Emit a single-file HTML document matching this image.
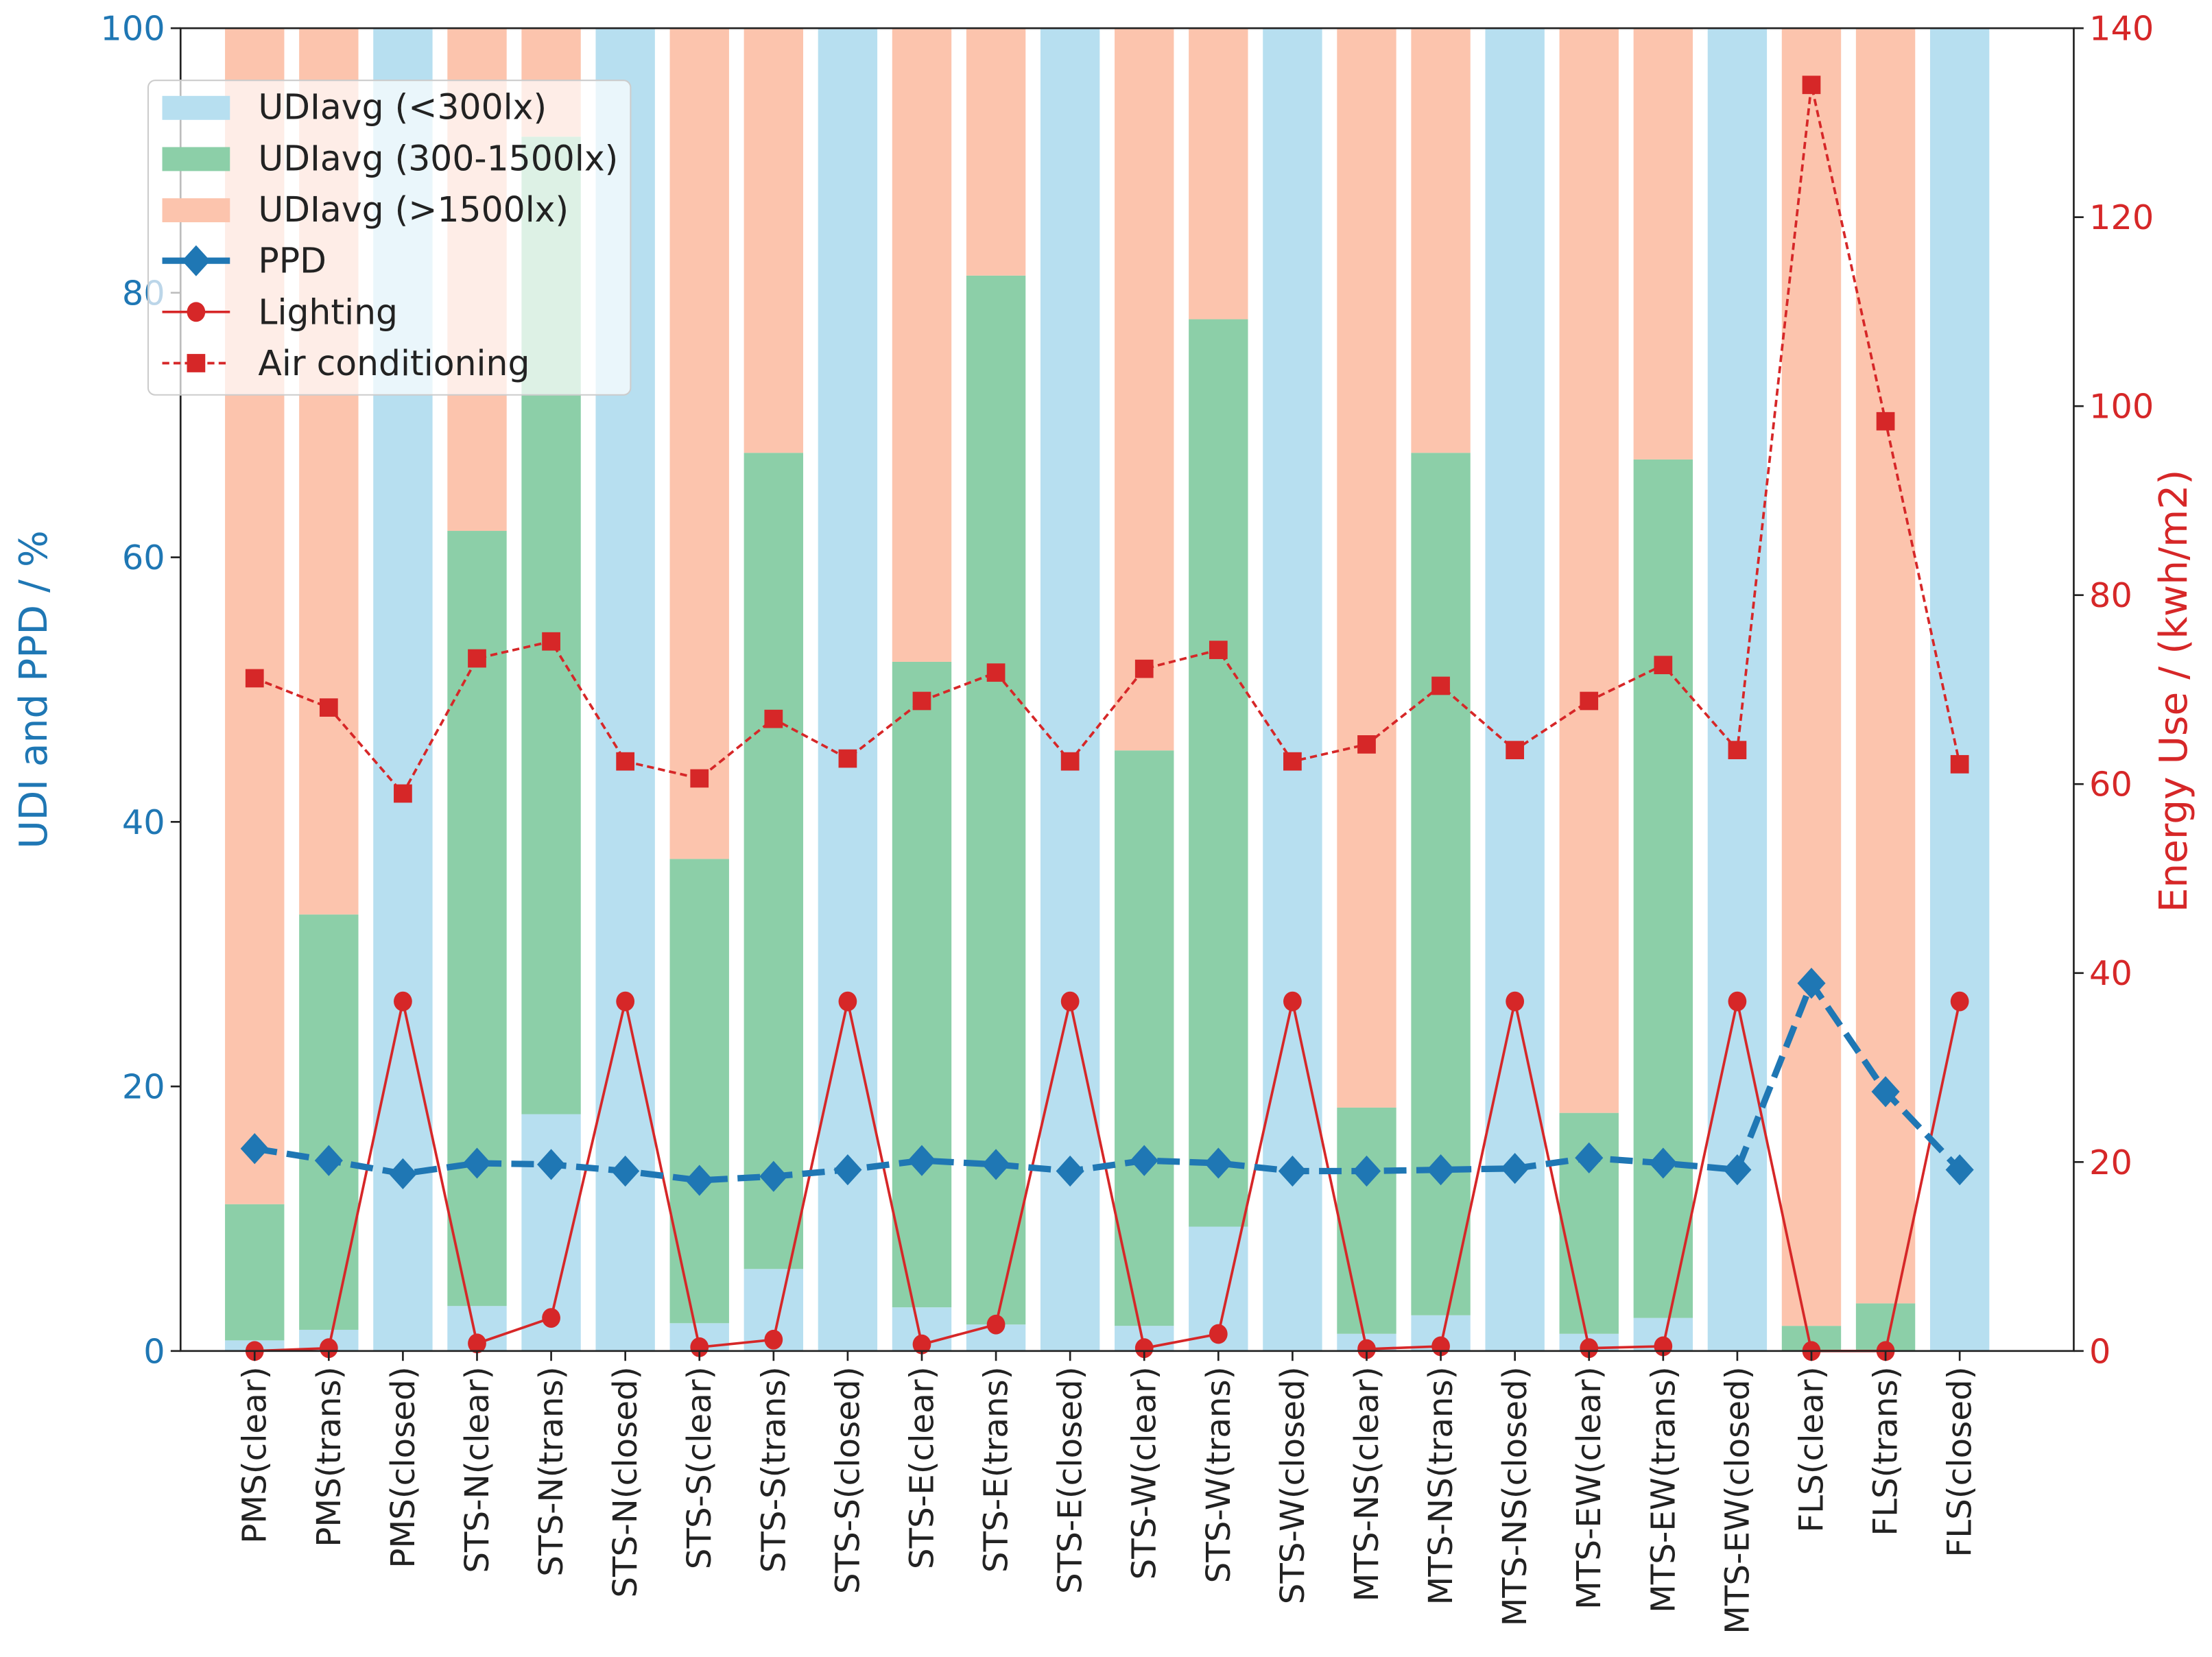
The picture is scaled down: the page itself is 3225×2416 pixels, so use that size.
<!DOCTYPE html>
<html><head><meta charset="utf-8"><style>
html,body{margin:0;padding:0;background:#fff}
svg{display:block;font-family:"DejaVu Sans","Liberation Sans",sans-serif}
</style></head><body>
<svg id="chart" width="3225" height="2416" viewBox="0 0 1568 1175" preserveAspectRatio="none" xmlns="http://www.w3.org/2000/svg">
<g id="bars"></g>
<g id="lines"></g>
<g id="axes"></g>
<g id="legend"></g>
</svg>
<script>
const categories=["PMS(clear)","PMS(trans)","PMS(closed)","STS-N(clear)","STS-N(trans)","STS-N(closed)","STS-S(clear)","STS-S(trans)","STS-S(closed)","STS-E(clear)","STS-E(trans)","STS-E(closed)","STS-W(clear)","STS-W(trans)","STS-W(closed)","MTS-NS(clear)","MTS-NS(trans)","MTS-NS(closed)","MTS-EW(clear)","MTS-EW(trans)","MTS-EW(closed)","FLS(clear)","FLS(trans)","FLS(closed)"];
const udiLow=[0.8,1.6,100,3.4,17.9,100,2.1,6.2,100,3.3,2.0,100,1.9,9.4,100,1.3,2.7,100,1.3,2.5,100,0,0,100];
const udiMid=[10.3,31.4,0,58.6,73.9,0,35.1,61.7,0,48.8,79.3,0,43.5,68.6,0,17.1,65.2,0,16.7,64.9,0,1.9,3.6,0];
const ppd=[15.3,14.4,13.4,14.2,14.1,13.6,12.9,13.2,13.7,14.4,14.1,13.6,14.4,14.2,13.6,13.6,13.7,13.8,14.6,14.2,13.7,27.8,19.6,13.7];
const lighting=[0,0.3,37,0.8,3.5,37,0.4,1.2,37,0.7,2.8,37,0.3,1.8,37,0.2,0.5,37,0.3,0.5,37,0,0,37];
const aircon=[71.2,68.1,59.0,73.3,75.1,62.4,60.6,66.9,62.7,68.8,71.8,62.4,72.2,74.2,62.4,64.2,70.4,63.6,68.8,72.6,63.6,134.0,98.4,62.1];
const leftTicks=[0,20,40,60,80,100];
const rightTicks=[0,20,40,60,80,100,120,140];

const NS="http://www.w3.org/2000/svg";
const L=128,R=1470,T=20,B=958;
const x0=180.5,step=52.55,bw=42;
const xs=i=>x0+i*step;
const yl=v=>B-(v/100)*(B-T);
const yr=v=>B-(v/140)*(B-T);
function mk(tag,attrs,parent){const e=document.createElementNS(NS,tag);for(const k in attrs)e.setAttribute(k,attrs[k]);parent.appendChild(e);return e;}
const gb=document.getElementById('bars'),gl=document.getElementById('lines'),ga=document.getElementById('axes'),gg=document.getElementById('legend');
const cLow="#b7dff0",cMid="#8ccfa8",cHigh="#fcc4ad",cBlue="#1f77b4",cRed="#d62728";

categories.forEach((c,i)=>{
  const lo=udiLow[i],mid=udiMid[i];
  const x=xs(i)-bw/2;
  let r=mk('rect',{x:x,y:yl(lo),width:bw,height:yl(0)-yl(lo),fill:cLow},gb);
  
  
  r=mk('rect',{x:x,y:yl(lo+mid),width:bw,height:yl(lo)-yl(lo+mid),fill:cMid},gb);
  
  
  r=mk('rect',{x:x,y:yl(100),width:bw,height:yl(lo+mid)-yl(100),fill:cHigh},gb);
  
  
});

let p=mk('polyline',{points:lighting.map((v,i)=>xs(i)+','+yr(v)).join(' '),fill:'none',stroke:cRed,'stroke-width':1.8},gl);


lighting.forEach((v,i)=>{const m=mk('ellipse',{cx:xs(i),cy:yr(v),rx:6.5,ry:7,fill:cRed},gl);

});
p=mk('polyline',{points:aircon.map((v,i)=>xs(i)+','+yr(v)).join(' '),fill:'none',stroke:cRed,'stroke-width':1.8,'stroke-dasharray':'5,3'},gl);


aircon.forEach((v,i)=>{const m=mk('rect',{x:xs(i)-6.5,y:yr(v)-6.5,width:13,height:13,fill:cRed},gl);

});
p=mk('polyline',{points:ppd.map((v,i)=>xs(i)+','+yl(v)).join(' '),fill:'none',stroke:cBlue,'stroke-width':4.5,'stroke-dasharray':'16,7'},gl);


ppd.forEach((v,i)=>{const x=xs(i),y=yl(v);const m=mk('polygon',{points:`${x},${y-11} ${x+10},${y} ${x},${y+11} ${x-10},${y}`,fill:cBlue},gl);

});

let f=mk('rect',{x:L,y:T,width:R-L,height:B-T,fill:'none',stroke:'#222','stroke-width':1.3},ga);


leftTicks.forEach(v=>{
  const y=yl(v);
  let t=mk('line',{x1:L-7,x2:L,y1:y,y2:y,stroke:'#222','stroke-width':1.3},ga);
  
  
  t=mk('text',{x:L-11,y:y+8.5,'text-anchor':'end','font-size':24,fill:cBlue},ga);
  t.textContent=v;
  
  
});
rightTicks.forEach(v=>{
  const y=yr(v);
  let t=mk('line',{x1:R,x2:R+7,y1:y,y2:y,stroke:'#222','stroke-width':1.3},ga);
  
  
  t=mk('text',{x:R+11,y:y+8.5,'text-anchor':'start','font-size':24,fill:cRed},ga);
  t.textContent=v;
  
  
});
categories.forEach((c,i)=>{
  const x=xs(i);
  let t=mk('line',{x1:x,x2:x,y1:B,y2:B+7,stroke:'#222','stroke-width':1.3},ga);
  
  
  t=mk('text',{x:0,y:0,'text-anchor':'end','font-size':23.5,fill:'#222',transform:`translate(${x+8},${B+11}) rotate(-90)`},ga);
  t.textContent=c;
  
  
});
let at=mk('text',{x:0,y:0,'text-anchor':'middle','font-size':27.5,fill:cBlue,transform:'translate(33,489) rotate(-90)'},ga);
at.textContent='UDI and PPD / %';


at=mk('text',{x:0,y:0,'text-anchor':'middle','font-size':27.5,fill:cRed,transform:'translate(1550,490) rotate(-90)'},ga);
at.textContent='Energy Use / (kwh/m2)';



let lb=mk('rect',{x:105,y:57,width:342,height:223,rx:5,fill:'#fff','fill-opacity':0.7,stroke:'#ccc','stroke-width':1},gg);


const legendLabels=["UDIavg (<300lx)","UDIavg (300-1500lx)","UDIavg (>1500lx)","PPD","Lighting","Air conditioning"];
legendLabels.forEach((s,k)=>{
  const y=76+k*36.3;
  const g=mk('g',{},gg);
  
  
  if(k<3){mk('rect',{x:115,y:y-8,width:48,height:17,fill:[cLow,cMid,cHigh][k]},g);}
  else if(k===3){mk('line',{x1:115,x2:163,y1:y,y2:y,stroke:cBlue,'stroke-width':4.5},g);mk('polygon',{points:`139,${y-11} 149,${y} 139,${y+11} 129,${y}`,fill:cBlue},g);}
  else if(k===4){mk('line',{x1:115,x2:163,y1:y,y2:y,stroke:cRed,'stroke-width':1.8},g);mk('ellipse',{cx:139,cy:y,rx:6.5,ry:7,fill:cRed},g);}
  else {mk('line',{x1:115,x2:163,y1:y,y2:y,stroke:cRed,'stroke-width':1.8,'stroke-dasharray':'5,3'},g);mk('rect',{x:132.5,y:y-6.5,width:13,height:13,fill:cRed},g);}
  const t=mk('text',{x:183,y:y+8.5,'font-size':24.5,fill:'#222'},g);
  t.textContent=s;
});
</script>
</body></html>
